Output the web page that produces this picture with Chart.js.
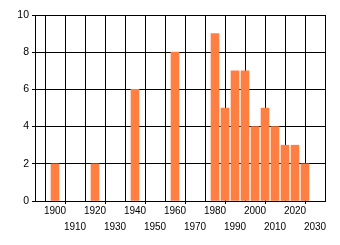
<!DOCTYPE html>
<html>
<head>
<meta charset="utf-8">
<script src="https://cdn.jsdelivr.net/npm/chart.js@4"></script>
<style>
  body { margin: 0; background: #fff; }
  canvas { display: block; }
</style>
</head>
<body>
<canvas id="chart" width="340" height="245"></canvas>
<script>
// données
const years = [1900, 1920, 1940, 1960, 1980, 1985, 1990, 1995, 2000, 2005, 2010, 2015, 2020, 2025];
const counts = [2, 2, 6, 8, 9, 5, 7, 7, 4, 5, 4, 3, 3, 2];
const tickYears = [1890, 1900, 1910, 1920, 1930, 1940, 1950, 1960, 1970, 1980, 1990, 2000, 2010, 2020, 2030];
const yTicks = [0, 2, 4, 6, 8, 10];

const isSecondRow = v => ((v - 1900) / 10) % 2 !== 0;

const ctx = document.getElementById("chart").getContext("2d");
new Chart(ctx, {
  type: 'bar',
  data: {
    datasets: [{
      data: years.map((y, i) => ({ x: y, y: counts[i] })),
      backgroundColor: '#FF7F43',
      barThickness: 8
    }]
  },
  options: {
    responsive: false,
    animation: false,
    devicePixelRatio: 1,
    layout: { padding: { top: 15, right: 15, left: 0, bottom: 0 } },
    plugins: {
      legend: { display: false },
      tooltip: { enabled: false }
    },
    scales: {
      x: {
        type: 'linear',
        min: 1890,
        max: 2035,
        offset: false,
        afterBuildTicks: scale => {
          scale.ticks = tickYears.map(v => ({ value: v }));
        },
        afterFit: scale => { scale.height = 44; },
        grid: {
          color: '#000',
          lineWidth: 1,
          tickLength: 3,
          tickColor: c => (c.tick && c.tick.value !== 1890 && isSecondRow(c.tick.value)) ? '#000' : 'rgba(0,0,0,0)'
        },
        border: { color: '#000' },
        ticks: {
          autoSkip: false,
          maxRotation: 0,
          padding: -1,
          color: '#000',
          font: { family: 'Liberation Sans', size: 10, lineHeight: '16px' },
          callback: v => {
            if (v === 1890) return '';
            return isSecondRow(v) ? ['', String(v)] : [String(v)];
          }
        }
      },
      y: {
        min: 0,
        max: 10,
        afterBuildTicks: scale => {
          scale.ticks = yTicks.map(v => ({ value: v }));
        },
        afterFit: scale => { scale.width = 35; },
        grid: { color: '#000', lineWidth: 1, tickLength: 3, tickColor: '#000' },
        border: { color: '#000' },
        ticks: {
          padding: 3,
          color: '#000',
          font: { family: 'Liberation Sans', size: 10.5 }
        }
      }
    }
  }
});
</script>
</body>
</html>
